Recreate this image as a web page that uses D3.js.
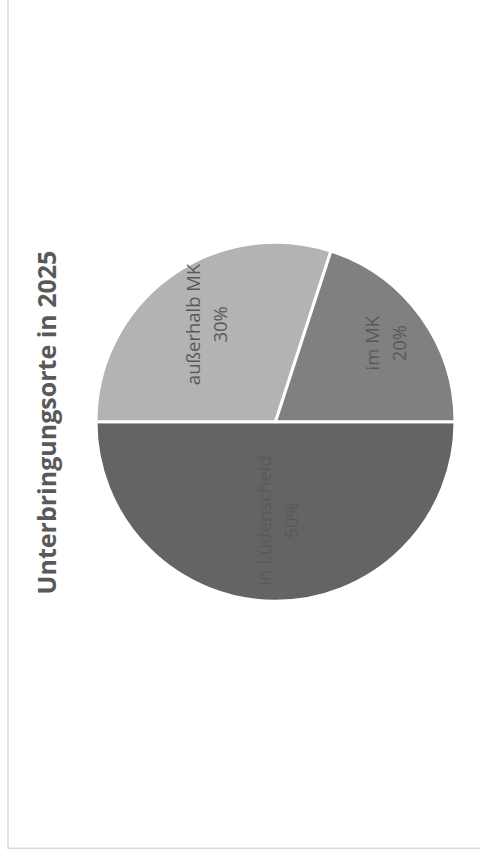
<!DOCTYPE html>
<html>
<head>
<meta charset="utf-8">
<script src="https://cdn.jsdelivr.net/npm/d3@7"></script>
<style>
  html, body { margin: 0; padding: 0; background: #ffffff; }
  svg { display: block; }
</style>
</head>
<body>
<svg id="chart" width="480" height="858"></svg>
<script>
// ---- data ----
const title = "Unterbringungsorte in 2025";
const categories = ["in Lüdenscheid", "außerhalb MK", "im MK"];
const values = [50, 30, 20];
const colors = ["#646464", "#b3b3b3", "#808080"];

// ---- layout ----
const cx = 275.5, cy = 421.7, radius = 179.5;
const labelRadiusFactor = [0.55, 0.67, 0.745];

const svg = d3.select("#chart");

// chart frame (rotated chart area, partially outside the window)
svg.append("rect")
  .attr("x", 8).attr("y", -20)
  .attr("width", 520).attr("height", 868.3)
  .attr("fill", "#ffffff")
  .attr("stroke", "#d9d9d9")
  .attr("stroke-width", 1.5);

const total = d3.sum(values);
const dataset = categories.map((c, i) => ({ name: c, value: values[i], color: colors[i], lf: labelRadiusFactor[i] }));

const pie = d3.pie().sort(null).value(d => d.value)
  .startAngle(Math.PI / 2).endAngle(Math.PI / 2 + 2 * Math.PI);
const arc = d3.arc().innerRadius(0).outerRadius(radius);

const g = svg.append("g").attr("transform", `translate(${cx},${cy})`);

g.selectAll("path.slice")
  .data(pie(dataset))
  .join("path")
  .attr("class", "slice")
  .attr("d", arc)
  .attr("fill", d => d.data.color)
  .attr("stroke", "#ffffff")
  .attr("stroke-width", 3)
  .attr("stroke-linejoin", "round");

const pct = d3.format(".0%");
const labels = g.selectAll("g.label")
  .data(pie(dataset))
  .join("g")
  .attr("class", "label")
  .attr("transform", d => {
    const r = radius * d.data.lf;
    const la = d3.arc().innerRadius(r).outerRadius(r);
    const [x, y] = la.centroid(d);
    return `translate(${x},${y}) rotate(-90)`;
  });

labels.append("text")
  .attr("text-anchor", "middle")
  .attr("font-family", "'Open Sans', sans-serif")
  .attr("font-size", 18.5)
  .attr("fill", "#595959")
  .attr("y", -4.5)
  .text(d => d.data.name);

labels.append("text")
  .attr("text-anchor", "middle")
  .attr("font-family", "'Open Sans', sans-serif")
  .attr("font-size", 18.5)
  .attr("fill", "#595959")
  .attr("y", 22)
  .text(d => pct(d.data.value / total));

// title (rotated)
svg.append("text")
  .attr("transform", "translate(55.5,422.5) rotate(-90)")
  .attr("text-anchor", "middle")
  .attr("font-family", "'Open Sans', sans-serif")
  .attr("font-weight", "bold")
  .attr("font-size", 25)
  .attr("fill", "#595959")
  .text(title);
</script>
</body>
</html>
